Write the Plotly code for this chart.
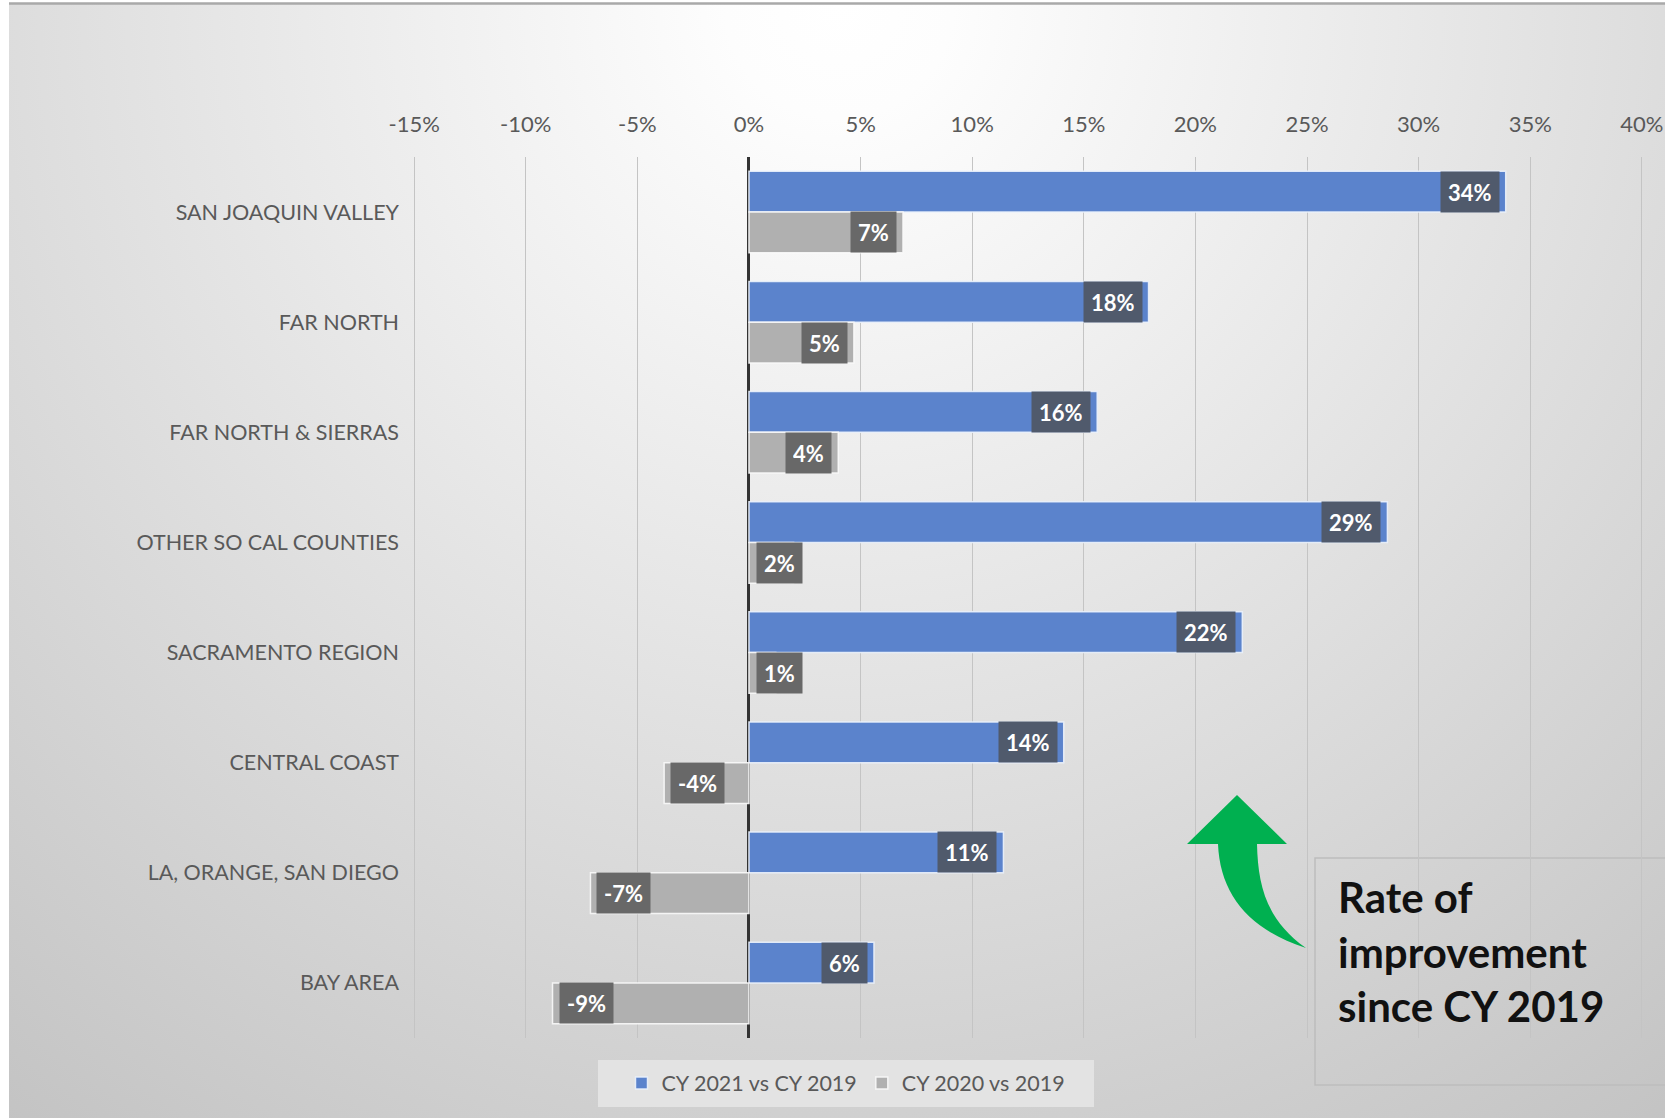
import base64
import plotly.graph_objects as go

regions = ["SAN JOAQUIN VALLEY", "FAR NORTH", "FAR NORTH & SIERRAS", "OTHER SO CAL COUNTIES",
           "SACRAMENTO REGION", "CENTRAL COAST", "LA, ORANGE, SAN DIEGO", "BAY AREA"]
cy2021_vs_2019 = [33.9, 17.9, 15.6, 28.6, 22.1, 14.1, 11.4, 5.6]
cy2020_vs_2019 = [6.9, 4.7, 4.0, 2.0, 1.2, -3.8, -7.1, -8.8]
x_ticks = [-15, -10, -5, 0, 5, 10, 15, 20, 25, 30, 35, 40]
series_names = ["CY 2021 vs CY 2019", "CY 2020 vs 2019"]

W, H = 1665, 1118
ML, MR, MT, MB = 413, 22, 157, 80
PW, PH = W - ML - MR, H - MT - MB


def px(x):
    return (x - ML) / PW


def py(y):
    return 1 - (y - MT) / PH


BLUE = "#5b83cc"
GREY = "#b0b0b0"
BLUE_LBL = "#505a6c"
GREY_LBL = "#686868"
TXT = "#595959"
FONT = "Lato"

BARGAP = 0.26

fig = go.Figure()
fig.add_trace(go.Bar(y=regions, x=cy2021_vs_2019, orientation="h", name=series_names[0],
                     marker=dict(color=BLUE, line=dict(color="rgba(235,242,252,0.9)", width=1.5))))
fig.add_trace(go.Bar(y=regions, x=cy2020_vs_2019, orientation="h", name=series_names[1],
                     marker=dict(color=GREY, line=dict(color="rgba(250,250,250,0.9)", width=1.5))))

half = (1 - BARGAP) / 4
annotations = []
for si, (vals, bg) in enumerate([(cy2021_vs_2019, BLUE_LBL), (cy2020_vs_2019, GREY_LBL)]):
    for i, v in enumerate(vals):
        yc = i - half if si == 0 else i + half
        txt = f"{round(v):.0f}%"
        if abs(v) < 3:
            xa, xanchor, xs = 0, "left", 7
        elif v >= 0:
            xa, xanchor, xs = v, "right", -6
        else:
            xa, xanchor, xs = v, "left", 6
        annotations.append(dict(x=xa, y=yc, xref="x", yref="y", text=f"<b>{txt}</b>",
                                showarrow=False, xanchor=xanchor, yanchor="middle", xshift=xs,
                                bgcolor=bg, borderpad=7, height=26,
                                font=dict(family=FONT, size=22, color="white")))

annotations.append(dict(x=px(1336), y=py(951), xref="paper", yref="paper",
                        text="<b>Rate of<br>improvement<br>since CY 2019</b>", showarrow=False,
                        xanchor="left", yanchor="middle", align="left",
                        font=dict(family=FONT, size=42, color="#111111")))

# background gradient (radial from top centre)
svg = f'''<svg xmlns="http://www.w3.org/2000/svg" width="1656" height="1114" viewBox="0 0 1656 1114" preserveAspectRatio="none">
<defs><radialGradient id="g" gradientUnits="userSpaceOnUse" cx="830" cy="0" r="1420">
<stop offset="0" stop-color="#ffffff"/><stop offset="0.08" stop-color="#fdfdfd"/>
<stop offset="1" stop-color="#c2c2c2"/></radialGradient></defs>
<rect x="0" y="0" width="1656" height="1114" fill="url(#g)"/></svg>'''
src = "data:image/svg+xml;base64," + base64.b64encode(svg.encode()).decode()
images = [dict(source=src, xref="paper", yref="paper", x=px(9), y=py(4),
               sizex=(W - 9) / PW, sizey=(H - 4) / PH, sizing="stretch",
               xanchor="left", yanchor="top", layer="below")]


def P(x, y):
    return f"{px(x):.5f},{py(y):.5f}"


arrow = ("M " + P(1237, 795) + " L " + P(1287, 844) + " L " + P(1257, 844) +
         " C " + P(1258, 885) + " " + P(1266, 920) + " " + P(1306, 948) +
         " C " + P(1250, 930) + " " + P(1220, 895) + " " + P(1218, 844) +
         " L " + P(1187, 844) + " Z")

shapes = [
    dict(type="line", xref="paper", yref="paper", x0=px(9), x1=px(W), y0=py(3.5), y1=py(3.5),
         line=dict(color="#a9a9a9", width=2.5), layer="below"),
    dict(type="rect", xref="paper", yref="paper", x0=px(1315), x1=px(W + 10), y0=py(858), y1=py(1085),
         line=dict(color="#bdbdbd", width=1.5), fillcolor="rgba(0,0,0,0)", layer="below"),
    dict(type="rect", xref="paper", yref="paper", x0=px(598), x1=px(1094), y0=py(1060), y1=py(1107),
         line=dict(width=0), fillcolor="#e3e3e3", layer="below"),
    dict(type="path", xref="paper", yref="paper", path=arrow, fillcolor="#00b050",
         line=dict(width=0), layer="above"),
]

fig.update_layout(
    width=W, height=H, margin=dict(l=ML, r=MR, t=MT, b=MB, autoexpand=False),
    paper_bgcolor="white", plot_bgcolor="rgba(0,0,0,0)",
    barmode="group", bargap=BARGAP, bargroupgap=0,
    font=dict(family=FONT, color=TXT),
    xaxis=dict(range=[-15.05, 40.05], side="top", tickvals=x_ticks,
               ticktext=[f"{t}%" for t in x_ticks], tickfont=dict(size=22, color=TXT),
               showgrid=True, gridcolor="#c4c4c4", gridwidth=1.2,
               zeroline=True, zerolinecolor="#333333", zerolinewidth=2.5,
               showline=False, ticks="", ticklabelstandoff=20, fixedrange=True),
    yaxis=dict(autorange="reversed", tickfont=dict(size=21.5, color=TXT), showgrid=False,
               showline=False, ticks="", ticklabelstandoff=13, fixedrange=True),
    legend=dict(orientation="h", x=px(846), y=py(1083), xanchor="center", yanchor="middle",
                bgcolor="rgba(0,0,0,0)", font=dict(size=21.5, color=TXT), itemwidth=30,
                traceorder="normal"),
    showlegend=True,
    annotations=annotations, shapes=shapes, images=images,
)

fig.write_html("out.html", config={"displayModeBar": False},
               post_script="document.body.style.margin='0';")
